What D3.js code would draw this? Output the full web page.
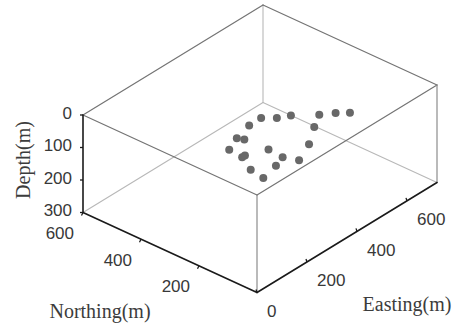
<!DOCTYPE html>
<html>
<head>
<meta charset="utf-8">
<script src="https://cdn.jsdelivr.net/npm/d3@7"></script>
<style>
  html, body { margin: 0; padding: 0; background: #fff; }
  svg { display: block; }
</style>
</head>
<body>
<svg id="chart" width="455" height="330"></svg>
<script>
// Event locations (metres)
const easting  = [477, 504, 537, 589, 623, 649, 428, 534, 359, 368, 303, 372, 461, 298, 309, 367, 324, 384, 266, 256];
const northing = [397, 366, 346, 293, 266, 239, 396, 263, 379, 361, 357, 281, 218, 308, 308, 228, 214, 186, 251, 199];
const depth    = [150, 150, 150, 150, 150, 150, 150, 150, 150, 150, 150, 150, 150, 150, 150, 150, 150, 150, 150, 150];

// Axis ranges and tick labels
const eastingDomain  = [0, 720];
const northingDomain = [0, 600];
const depthDomain    = [0, 300];
const eastingTicks   = [0, 200, 400, 600];
const northingTicks  = [200, 400, 600];
const depthTicks     = [0, 100, 200, 300];

const svg = d3.select("#chart");

// Oblique projection: each data axis contributes a screen-space vector
const origin = [257, 195];                       // easting 0, northing 0, depth 0
const eX = d3.scaleLinear().domain(eastingDomain).range([0, 180]);
const eY = d3.scaleLinear().domain(eastingDomain).range([0, -110]);
const nX = d3.scaleLinear().domain(northingDomain).range([0, -174]);
const nY = d3.scaleLinear().domain(northingDomain).range([0, -80]);
const dY = d3.scaleLinear().domain(depthDomain).range([0, 97.5]);

function proj(e, n, d) {
  return [origin[0] + eX(e) + nX(n), origin[1] + eY(e) + nY(n) + dY(d)];
}

const E0 = eastingDomain[0], E1 = eastingDomain[1];
const N0 = northingDomain[0], N1 = northingDomain[1];
const D0 = depthDomain[0], D1 = depthDomain[1];

function edge(a, b, color, width) {
  const p = proj(...a), q = proj(...b);
  svg.append("line")
    .attr("x1", p[0]).attr("y1", p[1])
    .attr("x2", q[0]).attr("y2", q[1])
    .attr("stroke", color).attr("stroke-width", width)
    .attr("stroke-linecap", "round");
}

// Hidden / back edges
const back = "#b8b8b8";
edge([E1, N1, D0], [E1, N1, D1], back, 1.1);
edge([E1, N1, D1], [E0, N1, D1], back, 1.1);
edge([E1, N1, D1], [E1, N0, D1], back, 1.1);

// Top face and visible vertical edges
const box = "#747474";
edge([E0, N0, D0], [E1, N0, D0], box, 1.2);
edge([E0, N0, D0], [E0, N1, D0], box, 1.2);
edge([E1, N0, D0], [E1, N1, D0], box, 1.2);
edge([E0, N1, D0], [E1, N1, D0], box, 1.2);
edge([E0, N0, D0], [E0, N0, D1], "#8c8c8c", 1.2);
edge([E1, N0, D0], [E1, N0, D1], "#8c8c8c", 1.2);

// Axis lines
const axisColor = "#1a1a1a";
edge([E0, N1, D0], [E0, N1, D1], axisColor, 1.6);   // depth
edge([E0, N0, D1], [E0, N1, D1], axisColor, 1.6);   // northing
edge([E0, N0, D1], [E1, N0, D1], axisColor, 1.6);   // easting

// Ticks
const tickG = svg.append("g").attr("stroke", axisColor).attr("stroke-width", 1.3);
depthTicks.forEach(v => {
  const p = proj(E0, N1, v);
  tickG.append("line").attr("x1", p[0]).attr("y1", p[1]).attr("x2", p[0] - 3).attr("y2", p[1]);
});
northingTicks.forEach(v => {
  const p = proj(E0, v, D1);
  tickG.append("line").attr("x1", p[0]).attr("y1", p[1]).attr("x2", p[0] - 1.5).attr("y2", p[1] + 3);
});
eastingTicks.forEach(v => {
  const p = proj(v, N0, D1);
  tickG.append("line").attr("x1", p[0]).attr("y1", p[1]).attr("x2", p[0] - 1).attr("y2", p[1] - 3);
});

// Tick labels
const labelFont = "'Liberation Sans', Arial, sans-serif";
const labelColor = "#383838";
const tl = svg.append("g")
  .attr("font-family", labelFont)
  .attr("font-size", 17)
  .attr("fill", labelColor);

depthTicks.forEach(v => {
  const p = proj(E0, N1, v);
  tl.append("text").attr("x", p[0] - 11).attr("y", p[1] - 2)
    .attr("text-anchor", "end").attr("dominant-baseline", "central").text(v);
});
northingTicks.forEach(v => {
  const p = proj(E0, v, D1);
  tl.append("text").attr("x", p[0] - 9).attr("y", p[1] + 21)
    .attr("text-anchor", "end").attr("dominant-baseline", "central").text(v);
});
eastingTicks.forEach(v => {
  const p = proj(v, N0, D1);
  tl.append("text").attr("x", p[0] + 10).attr("y", p[1] + 19)
    .attr("text-anchor", "start").attr("dominant-baseline", "central").text(v);
});

// Axis titles
const titleFont = "'Liberation Serif', 'Times New Roman', serif";
const titles = svg.append("g")
  .attr("font-family", titleFont)
  .attr("font-size", 20)
  .attr("fill", "#3c3c3c");
titles.append("text").attr("x", 100).attr("y", 318).attr("text-anchor", "middle").text("Northing(m)");
titles.append("text").attr("x", 407).attr("y", 311).attr("text-anchor", "middle").text("Easting(m)");
titles.append("text")
  .attr("transform", "translate(30,160) rotate(-90)")
  .attr("text-anchor", "middle").text("Depth(m)");

// Event markers
const pts = easting.map((e, i) => proj(e, northing[i], depth[i]));
svg.append("g").selectAll("circle")
  .data(pts)
  .join("circle")
  .attr("cx", d => d[0])
  .attr("cy", d => d[1])
  .attr("r", 4)
  .attr("fill", "#686868");
</script>
</body>
</html>
